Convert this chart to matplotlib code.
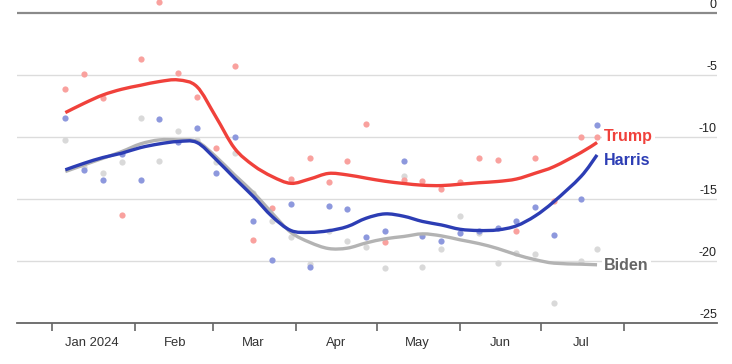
import matplotlib
matplotlib.use("Agg")
import matplotlib.pyplot as plt
import matplotlib.dates as mdates
from matplotlib.path import Path
from matplotlib.patches import PathPatch
import numpy as np
import pandas as pd

# weekly poll dates (last two are irregular)
dates = list(pd.date_range("2024-01-06", "2024-07-06", freq="7D")) + [pd.Timestamp("2024-07-16"), pd.Timestamp("2024-07-22")]

# smoothed averages
trump_line = [-8.05, -7.3, -6.63, -6.17, -5.85, -5.55, -5.42, -5.96, -8.37, -10.92,
              -12.3, -13.2, -13.75, -13.4, -12.95, -13.07, -13.33, -13.58, -13.76, -13.9,
              -13.93, -13.82, -13.7, -13.6, -13.4, -12.93, -12.4, -11.27, -10.46]
harris_line = [-12.66, -12.13, -11.67, -11.32, -10.87, -10.57, -10.38, -10.46, -11.8, -13.33,
               -14.81, -16.42, -17.55, -17.7, -17.57, -17.23, -16.56, -16.21, -16.4, -16.82,
               -17.1, -17.45, -17.55, -17.5, -17.17, -16.37, -15.21, -13.2, -11.46]
biden_line = [-12.8, -12.26, -11.73, -11.19, -10.57, -10.25, -10.25, -10.38, -11.59, -13.07,
              -14.49, -16.15, -17.7, -18.5, -19.0, -18.97, -18.55, -18.22, -18.03, -17.82,
              -17.98, -18.3, -18.6, -19.0, -19.5, -19.9, -20.18, -20.26, -20.31]

# individual polls
trump_pts = [-6.12, -4.91, -6.84, -16.31, -3.73, 0.83, -4.88, -6.79, -10.92, -4.27,
             -18.33, -15.75, -13.44, -11.7, -13.63, -11.97, -8.93, -18.51, -13.52, -13.55,
             -14.19, -13.68, -11.72, -11.89, -17.55, -11.67, -15.16, -10.0, -10.0]
harris_pts = [-8.45, -12.66, -13.52, -11.4, -13.5, -8.59, -10.4, -9.31, -12.88, -10.0,
              -16.8, -19.94, -15.4, -20.47, -15.6, -15.78, -18.11, -17.6, -11.91, -18.03,
              -18.4, -17.74, -17.55, -17.36, -16.8, -15.62, -17.95, -15.03, -9.02]
biden_pts = [-10.25, -12.4, -12.9, -11.99, -8.5, -11.91, -9.52, -10.25, -12.07, -11.32,
             -14.5, -16.8, -18.08, -20.26, -17.6, -18.43, -18.89, -20.55, -13.12, -20.47,
             -19.0, -16.37, -17.76, -20.15, -19.37, -19.48, -23.4, -20.02, -19.02]

yticks = [0, -5, -10, -15, -20, -25]
month_starts = pd.date_range("2024-01-01", "2024-08-01", freq="MS")
month_labels = ["Jan 2024", "Feb", "Mar", "Apr", "May", "Jun", "Jul"]

plt.rcParams["font.family"] = ["Liberation Sans", "DejaVu Sans"]

fig = plt.figure(figsize=(7.32, 3.64), dpi=100)
ax = fig.add_axes([17 / 732, 41 / 364, 700 / 732, 323 / 364])

red, blue, grey = "#f0413b", "#2c3db4", "#b3b3b3"


def smooth_line(xs, ys, color, z):
    # draw a curve through the points with catmull-rom style bezier segments
    x = mdates.date2num(xs)
    p = np.column_stack([x, ys])
    verts = [p[0]]
    codes = [Path.MOVETO]
    n = len(p)
    for i in range(n - 1):
        p0 = p[i - 1] if i > 0 else p[i]
        p3 = p[i + 2] if i + 2 < n else p[i + 1]
        c1 = p[i] + (p[i + 1] - p0) / 6
        c2 = p[i + 1] - (p3 - p[i]) / 6
        verts += [c1, c2, p[i + 1]]
        codes += [Path.CURVE4] * 3
    ax.add_patch(PathPatch(Path(verts, codes), fc="none", ec=color, lw=2.4,
                           zorder=z, capstyle="butt", joinstyle="round"))


ax.scatter(dates, biden_pts, s=20, color="#d9d9d9", lw=0, zorder=2, clip_on=False)
ax.scatter(dates, harris_pts, s=20, color="#8d98dd", lw=0, zorder=2, clip_on=False)
ax.scatter(dates, trump_pts, s=20, color="#f9a19e", lw=0, zorder=2, clip_on=False)

smooth_line(dates, biden_line, grey, 3)
smooth_line(dates, harris_line, blue, 4)
smooth_line(dates, trump_line, red, 5)

ax.set_xlim(pd.Timestamp("2023-12-19"), pd.Timestamp("2024-09-04 16:00"))
ax.set_ylim(-25, 1.02)

# grid lines + right-hand labels sitting on top of them
for v in yticks:
    if v == 0:
        ax.axhline(v, color="#8a8a8a", lw=1.6, zorder=1)
    elif v != -25:
        ax.axhline(v, color="#dcdcdc", lw=1, zorder=1)
    ax.annotate(str(v), xy=(1, v), xycoords=("axes fraction", "data"),
                xytext=(0, 1.5), textcoords="offset points",
                ha="right", va="bottom", fontsize=9, color="#222222")

ax.set_yticks([])
for s in ["left", "right", "top"]:
    ax.spines[s].set_visible(False)
ax.spines["bottom"].set_color("#666666")
ax.spines["bottom"].set_linewidth(1.3)

ax.set_xticks(month_starts)
ax.set_xticklabels([])
ax.tick_params(axis="x", which="major", length=6, width=1.2, color="#666666")
mids = [m + pd.Timedelta(days=15) for m in month_starts[:-1]]
ax.set_xticks(mids, minor=True)
ax.set_xticklabels(month_labels, minor=True)
ax.tick_params(axis="x", which="minor", length=0, pad=10, labelsize=9.4, labelcolor="#333333")

lab_font = ["Liberation Sans Narrow", "Liberation Sans", "DejaVu Sans"]
last = dates[-1]
for name, y, c in [("Trump", -9.95, red), ("Harris", -11.87, blue), ("Biden", -20.4, "#666666")]:
    ax.annotate(name, xy=(last, y), xytext=(5, 0), textcoords="offset points",
                ha="left", va="center", fontsize=11.5, fontweight="bold", color=c,
                family=lab_font, zorder=6,
                bbox=dict(fc="white", ec="none", pad=1.5))

fig.savefig("out.png", dpi=100)
